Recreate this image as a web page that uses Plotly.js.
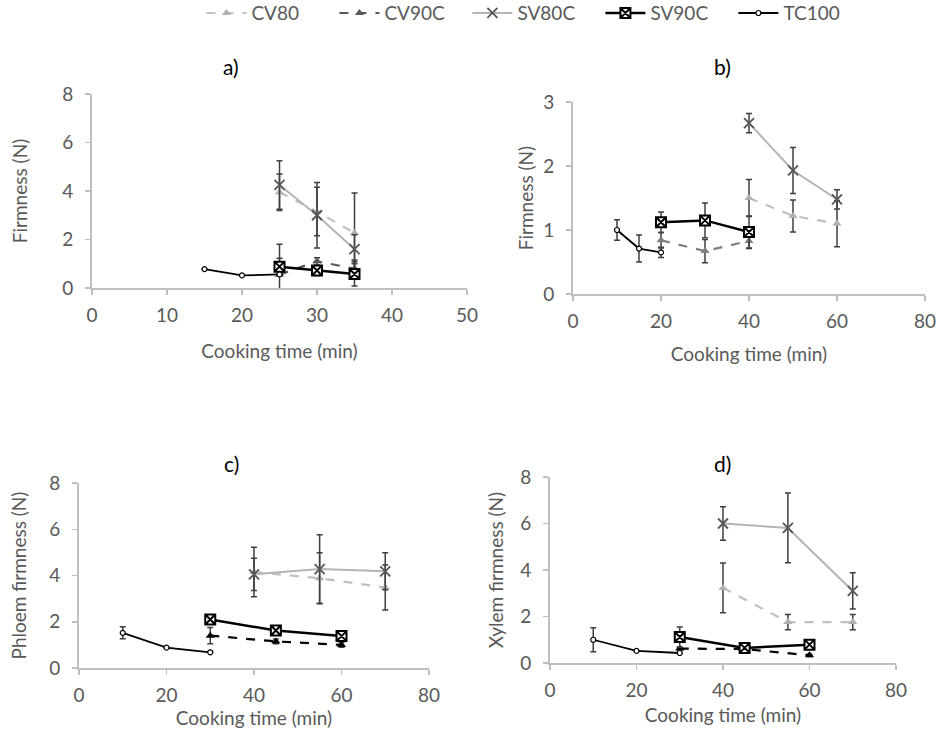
<!DOCTYPE html>
<html>
<head>
<meta charset="utf-8">
<script src="https://cdn.plot.ly/plotly-3.0.1.min.js"></script>
<style>html,body{margin:0;padding:0;background:#fff}#chart{width:940px;height:734px}</style>
</head>
<body>
<div id="chart"></div>
<script>
// ---------- Data ----------
const seriesNames = ["CV80", "CV90C", "SV80C", "SV90C", "TC100"];
const panelTitles = ["a)", "b)", "c)", "d)"];
const yTitles = ["Firmness (N)", "Firmness (N)", "Phloem firmness (N)", "Xylem firmness (N)"];
const xTitle = "Cooking time (min)";

// Panel a
const a_CV80_x = [25, 30, 35], a_CV80_y = [3.95, 3.15, 2.27], a_CV80_e = [0.75, 1.0, 1.65];
const a_CV90C_x = [25, 30, 35], a_CV90C_y = [0.55, 1.1, 0.8], a_CV90C_e = [1.25, 0.15, 0.35];
const a_SV80C_x = [25, 30, 35], a_SV80C_y = [4.25, 3.0, 1.6], a_SV80C_e = [1.0, 1.35, 0.6];
const a_SV90C_x = [25, 30, 35], a_SV90C_y = [0.88, 0.72, 0.58], a_SV90C_e = [0.35, 0.2, 0.5];
const a_TC100_x = [15, 20, 25], a_TC100_y = [0.78, 0.52, 0.56], a_TC100_e = [0, 0, 0];

// Panel b
const b_CV80_x = [40, 50, 60], b_CV80_y = [1.5, 1.22, 1.1], b_CV80_e = [0.29, 0.25, 0.36];
const b_CV90C_x = [20, 30, 40], b_CV90C_y = [0.84, 0.67, 0.83], b_CV90C_e = [0.12, 0.18, 0.12];
const b_SV80C_x = [40, 50, 60], b_SV80C_y = [2.67, 1.93, 1.48], b_SV80C_e = [0.15, 0.36, 0.15];
const b_SV90C_x = [20, 30, 40], b_SV90C_y = [1.12, 1.15, 0.97], b_SV90C_e = [0.16, 0.27, 0.25];
const b_TC100_x = [10, 15, 20], b_TC100_y = [1.0, 0.71, 0.65], b_TC100_e = [0.16, 0.21, 0.08];

// Panel c
const c_CV80_x = [40, 55, 70], c_CV80_y = [4.15, 3.88, 3.48], c_CV80_e = [1.07, 1.1, 0.97];
const c_CV90C_x = [30, 45, 60], c_CV90C_y = [1.4, 1.15, 1.0], c_CV90C_e = [0.35, 0.1, 0.1];
const c_SV80C_x = [40, 55, 70], c_SV80C_y = [4.05, 4.28, 4.18], c_SV80C_e = [0.7, 1.48, 0.8];
const c_SV90C_x = [30, 45, 60], c_SV90C_y = [2.1, 1.62, 1.38], c_SV90C_e = [0.1, 0.1, 0.1];
const c_TC100_x = [10, 20, 30], c_TC100_y = [1.52, 0.88, 0.68], c_TC100_e = [0.26, 0, 0];

// Panel d
const d_CV80_x = [40, 55, 70], d_CV80_y = [3.23, 1.76, 1.76], d_CV80_e = [1.07, 0.33, 0.33];
const d_CV90C_x = [30, 45, 60], d_CV90C_y = [0.62, 0.6, 0.33], d_CV90C_e = [0.05, 0.05, 0.05];
const d_SV80C_x = [40, 55, 70], d_SV80C_y = [6.0, 5.81, 3.1], d_SV80C_e = [0.72, 1.5, 0.78];
const d_SV90C_x = [30, 45, 60], d_SV90C_y = [1.12, 0.65, 0.79], d_SV90C_e = [0.43, 0.05, 0.05];
const d_TC100_x = [10, 20, 30], d_TC100_y = [1.0, 0.52, 0.43], d_TC100_e = [0.52, 0, 0];

const xRanges = [[0, 50], [0, 80], [0, 80], [0, 80]];
const yRanges = [[0, 8], [0, 3], [0, 8], [0, 8]];
const xDtick = [10, 20, 20, 20];
const yDtick = [2, 1, 2, 2];

const panels = [
  {CV80:[a_CV80_x,a_CV80_y,a_CV80_e], CV90C:[a_CV90C_x,a_CV90C_y,a_CV90C_e], SV80C:[a_SV80C_x,a_SV80C_y,a_SV80C_e], SV90C:[a_SV90C_x,a_SV90C_y,a_SV90C_e], TC100:[a_TC100_x,a_TC100_y,a_TC100_e]},
  {CV80:[b_CV80_x,b_CV80_y,b_CV80_e], CV90C:[b_CV90C_x,b_CV90C_y,b_CV90C_e], SV80C:[b_SV80C_x,b_SV80C_y,b_SV80C_e], SV90C:[b_SV90C_x,b_SV90C_y,b_SV90C_e], TC100:[b_TC100_x,b_TC100_y,b_TC100_e]},
  {CV80:[c_CV80_x,c_CV80_y,c_CV80_e], CV90C:[c_CV90C_x,c_CV90C_y,c_CV90C_e], SV80C:[c_SV80C_x,c_SV80C_y,c_SV80C_e], SV90C:[c_SV90C_x,c_SV90C_y,c_SV90C_e], TC100:[c_TC100_x,c_TC100_y,c_TC100_e]},
  {CV80:[d_CV80_x,d_CV80_y,d_CV80_e], CV90C:[d_CV90C_x,d_CV90C_y,d_CV90C_e], SV80C:[d_SV80C_x,d_SV80C_y,d_SV80C_e], SV90C:[d_SV90C_x,d_SV90C_y,d_SV90C_e], TC100:[d_TC100_x,d_TC100_y,d_TC100_e]}
];

// ---------- Styles ----------
const FONT = "Lato, 'Open Sans', sans-serif";
const errColor = "#3f3f3f";
const cv90Colors = ["#595959", "#7f7f7f", "#000000", "#000000"];
function style(name, p) {
  switch (name) {
    case "CV80": return {line:{color:"#c0c0c0", width:2.2, dash:"dash"}, marker:{symbol:"triangle-up", size:8, color:"#b0b0b0"}};
    case "CV90C": return {line:{color:cv90Colors[p], width:2.2, dash:"dash"}, marker:{symbol:"triangle-up", size:8, color:cv90Colors[p]}};
    case "SV80C": return {line:{color:"#b4b4b4", width:2}, marker:{symbol:"x-thin-open", size:10, color:"#555555", line:{color:"#555555", width:1.8}}};
    case "SV90C": return {line:{color:"#000000", width:2.5}, marker:{symbol:"square-x", size:10, color:"#ffffff", line:{color:"#000000", width:2}}};
    case "TC100": return {line:{color:"#000000", width:1.8}, marker:{symbol:"circle", size:5, color:"#ffffff", line:{color:"#000000", width:1.2}}};
  }
}

const traces = [];
panels.forEach((pd, p) => {
  const ax = p === 0 ? "" : String(p + 1);
  seriesNames.forEach((name) => {
    const d = pd[name];
    const s = style(name, p);
    traces.push({
      type: "scatter", mode: "lines+markers", name: name,
      x: d[0], y: d[1],
      error_y: {type:"data", array:d[2], visible:true, color:errColor, thickness:1.5, width:3},
      line: s.line, marker: s.marker,
      xaxis: "x" + ax, yaxis: "y" + ax,
      showlegend: p === 0, legendgroup: name,
      cliponaxis: true
    });
  });
});

// domains (pixel measured)
const W = 940, H = 734;
const boxes = [
  [92, 467, 94, 288],
  [573, 925, 102, 294],
  [79, 429, 483, 668],
  [550, 896, 477, 663]
];
const xStand = [20, 17, 5, 9];
const yStand = [30, 5, 18, 12];
const layout = {
  width: W, height: H,
  margin: {l:0, r:0, t:0, b:0, autoexpand:false},
  paper_bgcolor: "#ffffff", plot_bgcolor: "#ffffff",
  font: {family: FONT, color: "#595959"},
  showlegend: true,
  legend: {orientation:"h", x:0.568, xanchor:"center", y:1.008, yanchor:"top",
           font:{size:19, color:"#595959", family:FONT}, itemwidth:40, tracegroupgap:0,
           entrywidth:78, entrywidthmode:"pixels"},
  annotations: [],
  hovermode: false
};
const titlePos = [[231, 67], [722, 67], [231, 463], [722, 463]];
boxes.forEach((b, i) => {
  const ax = i === 0 ? "" : String(i + 1);
  const common = {
    showline:true, linecolor:"#bfbfbf", linewidth:2, ticks:"outside", tickcolor:"#bfbfbf",
    ticklen:5, tickwidth:1.5, showgrid:false, zeroline:false, mirror:false,
    tickfont:{size:19, color:"#595959", family:FONT}, fixedrange:true
  };
  layout["xaxis" + ax] = Object.assign({}, common, {
    domain:[b[0]/W, b[1]/W], range:xRanges[i], dtick:xDtick[i], tick0:0,
    anchor:"y" + ax, ticklabelstandoff:4,
    title:{text:xTitle, font:{size:19, color:"#595959", family:FONT}, standoff:xStand[i]}
  });
  layout["yaxis" + ax] = Object.assign({}, common, {
    domain:[1 - b[3]/H, 1 - b[2]/H], range:yRanges[i], dtick:yDtick[i], tick0:0,
    anchor:"x" + ax, ticklabelstandoff:8,
    title:{text:yTitles[i], font:{size:19, color:"#595959", family:FONT}, standoff:yStand[i]}
  });
  layout.annotations.push({
    text: panelTitles[i], xref:"paper", yref:"paper",
    x: titlePos[i][0]/W, y: 1 - titlePos[i][1]/H, xanchor:"center", yanchor:"middle",
    showarrow:false, font:{size:21, color:"#000000", family:FONT}
  });
});

Plotly.newPlot("chart", traces, layout, {displayModeBar:false, staticPlot:true});
</script>
</body>
</html>
